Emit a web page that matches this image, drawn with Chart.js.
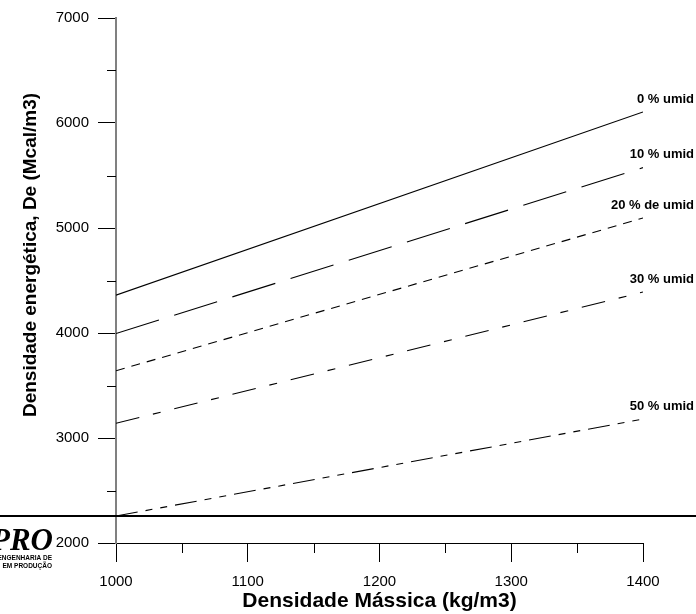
<!DOCTYPE html>
<html>
<head>
<meta charset="utf-8">
<script src="https://cdn.jsdelivr.net/npm/chart.js@4.4.1/dist/chart.umd.min.js"></script>
<style>
  html, body { margin: 0; padding: 0; background: #fff; }
  #wrap { width: 696px; height: 614px; }
</style>
</head>
<body>
<div id="wrap"><canvas id="chartContainer" width="696" height="614"></canvas></div>
<script>
// values (kg/m3 -> Mcal/m3)
const massDensity = [1000, 1400];
const umid0 = [4360, 6105];
const umid10 = [3995, 5575];
const umid20 = [3640, 5095];
const umid30 = [3140, 4390];
const umid50 = [2257, 3180];
const curveLabels = ["0 % umid", "10 % umid", "20 % de umid", "30 % umid", "50 % umid"];
const xMinorTicks = [1050, 1150, 1250, 1350];
const yMinorTicks = [2500, 3500, 4500, 5500, 6500];
const baseLineValue = 2257;
const yTitle = "Densidade energética, De (Mcal/m3)";

Chart.defaults.font.family = "'Liberation Sans', Arial, Helvetica, sans-serif";
Chart.defaults.color = "#000";

const toXY = arr => massDensity.map((x, i) => ({ x: x, y: arr[i] }));

const dashes = [[], [45, 16], [9, 7], [24, 14, 8, 14], [22, 8, 7, 8, 7, 8]];
const series = [umid0, umid10, umid20, umid30, umid50];

const datasets = series.map((s, i) => ({
  label: curveLabels[i],
  data: toXY(s),
  borderColor: "#000",
  borderWidth: 1.1,
  borderDash: dashes[i],
  pointRadius: 0,
  tension: 0,
  fill: false
}));

const extrasPlugin = {
  id: "extras",
  afterDraw(chart) {
    const ctx = chart.ctx;
    const xs = chart.scales.x;
    const ys = chart.scales.y;
    const area = chart.chartArea;
    ctx.save();

    // minor ticks
    ctx.strokeStyle = "#000";
    ctx.lineWidth = 1;
    ctx.beginPath();
    yMinorTicks.forEach(v => {
      const py = Math.round(ys.getPixelForValue(v)) + 0.5;
      ctx.moveTo(area.left - 9, py);
      ctx.lineTo(area.left, py);
    });
    xMinorTicks.forEach(v => {
      const px = Math.round(xs.getPixelForValue(v)) + 0.5;
      ctx.moveTo(px, area.bottom);
      ctx.lineTo(px, area.bottom + 10);
    });
    ctx.stroke();

    // horizontal line across the whole picture
    const by = ys.getPixelForValue(baseLineValue);
    ctx.lineWidth = 2;
    ctx.beginPath();
    ctx.moveTo(0, by);
    ctx.lineTo(chart.width, by);
    ctx.stroke();

    // curve labels at line ends
    ctx.fillStyle = "#000";
    ctx.font = "bold 13px 'Liberation Sans', Arial, sans-serif";
    ctx.textAlign = "right";
    ctx.textBaseline = "middle";
    chart.data.datasets.forEach((ds, i) => {
      const pts = chart.getDatasetMeta(i).data;
      const last = pts[pts.length - 1];
      ctx.fillText(ds.label, last.x + 51, last.y - 13);
    });

    // y title, sits a bit above the middle of the axis
    ctx.save();
    ctx.translate(31, 255);
    ctx.rotate(-Math.PI / 2);
    ctx.textAlign = "center";
    ctx.font = "bold 19px 'Liberation Sans', Arial, sans-serif";
    ctx.fillText(yTitle, 0, 0);
    ctx.restore();

    // logo
    ctx.font = "bold italic 31px 'Liberation Serif', 'DejaVu Serif', serif";
    ctx.textBaseline = "alphabetic";
    ctx.fillText("PRO", 53, 550);
    ctx.font = "bold 6.5px 'Liberation Sans', Arial, sans-serif";
    ctx.fillText("ENGENHARIA DE", 52, 560);
    ctx.fillText("EM PRODUÇÃO", 52, 568);

    ctx.restore();
  }
};

const chart = new Chart(document.getElementById("chartContainer"), {
  type: "line",
  data: { datasets: datasets },
  options: {
    responsive: false,
    animation: false,
    layout: { padding: { top: 18, right: 53, left: 0, bottom: 0 } },
    plugins: {
      legend: { display: false },
      tooltip: { enabled: false }
    },
    scales: {
      x: {
        type: "linear",
        min: 1000,
        max: 1400,
        afterFit: scale => { scale.height = 71; },
        ticks: {
          stepSize: 100, padding: 11, maxRotation: 0, font: { size: 15 }, color: "#000",
          callback: v => String(v)
        },
        grid: { drawOnChartArea: false, color: "#000", tickLength: 19, lineWidth: 1 },
        border: { color: "#000", width: 1 },
        title: {
          display: true,
          text: "Densidade Mássica (kg/m3)",
          color: "#000",
          font: { size: 21, weight: "bold" },
          padding: { top: 0, bottom: 0 }
        }
      },
      y: {
        type: "linear",
        min: 2000,
        max: 7000,
        afterFit: scale => { scale.width = 116; },
        ticks: {
          stepSize: 1000, padding: 9, font: { size: 15 }, color: "#000",
          callback: v => String(v)
        },
        grid: { drawOnChartArea: false, color: "#000", tickLength: 18, lineWidth: 1 },
        border: { color: "#808080", width: 2 }
      }
    }
  },
  plugins: [extrasPlugin]
});
</script>
</body>
</html>
